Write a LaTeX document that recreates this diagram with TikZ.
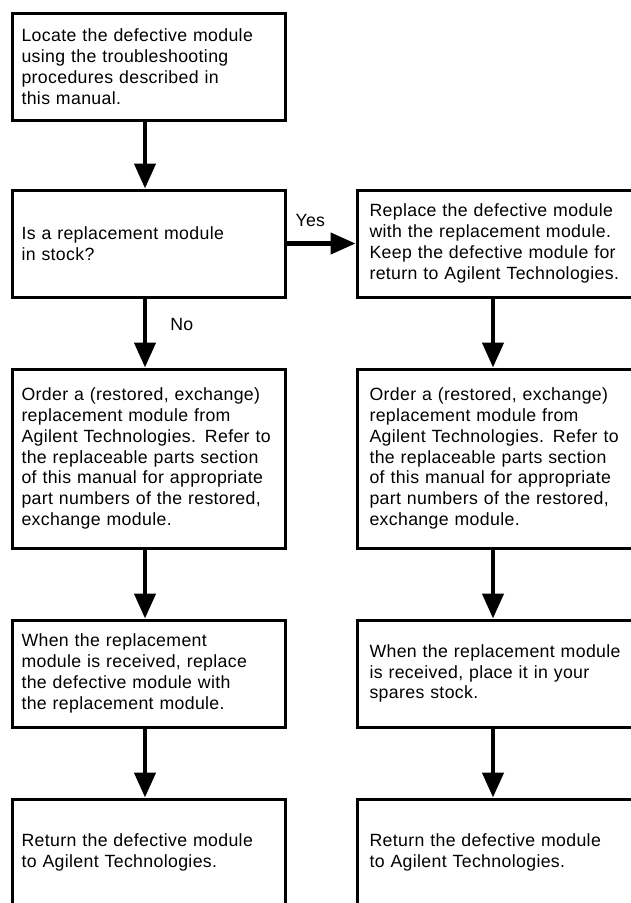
\documentclass[tikz,border=0pt]{standalone}
\usepackage{fontspec}
\setmainfont{Liberation Sans}[LetterSpace=2]
\usepackage{tikz}
\usetikzlibrary{arrows.meta,positioning}

\begin{document}
\begin{tikzpicture}[x=1pt, y=-1pt,
    box/.style={draw, line width=3pt, align=left, text width=255pt, inner xsep=9pt,
      minimum height=107pt, font=\fontsize{17.7}{20.8}\selectfont},
    tallbox/.style={box, minimum height=179pt},
    rbox/.style={minimum width=280pt},
    arr/.style={line width=4.5pt, -{Triangle[length=25pt,width=21pt]}},
    lab/.style={inner sep=0pt, font=\fontsize{17.7}{20.8}\selectfont}]
  \useasboundingbox (0,0) rectangle (630,903);
  \node[box] (l1) at (149,66.5) {Locate the defective module\\using the troubleshooting\\procedures described in\\this manual.};
  \node[box] (l2) at (149,243.5) {Is a replacement module\\in stock?};
  \node[box, rbox] (r2) at (497,243.5) {Replace the defective module\\with the replacement module.\\Keep the defective module for\\return to Agilent Technologies.};
  \node[tallbox] (l3) at (149,458.5) {Order a (restored, exchange)\\replacement module from\\Agilent Technologies. Refer to\\the replaceable parts section\\of this manual for appropriate\\part numbers of the restored,\\exchange module.};
  \node[tallbox, rbox] (r3) at (497,458.5) {Order a (restored, exchange)\\replacement module from\\Agilent Technologies. Refer to\\the replaceable parts section\\of this manual for appropriate\\part numbers of the restored,\\exchange module.};
  \node[box] (l4) at (149,673.5) {When the replacement\\module is received, replace\\the defective module with\\the replacement module.};
  \node[box, rbox] (r4) at (497,673.5) {When the replacement module\\is received, place it in your\\spares stock.};
  \node[box] (l5) at (149,852.5) {Return the defective module\\to Agilent Technologies.};
  \node[box, rbox] (r5) at (497,852.5) {Return the defective module\\to Agilent Technologies.};

  \draw[arr] ([xshift=-4pt]l1.south) -- ([xshift=-4pt]l2.north);
  \draw[arr] (l2.east) -- node[lab, pos=0.34, above=15pt] {Yes} (r2.west);
  \draw[arr] ([xshift=-4pt]l2.south) -- node[lab, pos=0.37, right=23pt] {No} ([xshift=-4pt]l3.north);
  \draw[arr] ([xshift=-4pt]l3.south) -- ([xshift=-4pt]l4.north);
  \draw[arr] ([xshift=-4pt]l4.south) -- ([xshift=-4pt]l5.north);
  \draw[arr] ([xshift=-4pt]r2.south) -- ([xshift=-4pt]r3.north);
  \draw[arr] ([xshift=-4pt]r3.south) -- ([xshift=-4pt]r4.north);
  \draw[arr] ([xshift=-4pt]r4.south) -- ([xshift=-4pt]r5.north);
\end{tikzpicture}
\end{document}
